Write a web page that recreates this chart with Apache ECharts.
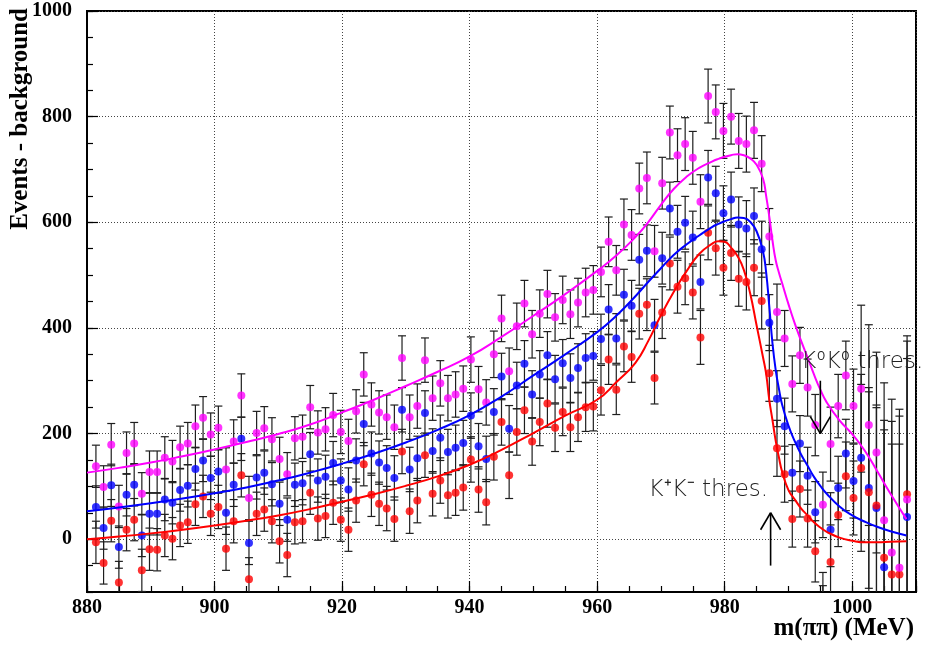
<!DOCTYPE html>
<html><head><meta charset="utf-8">
<script src="https://cdn.jsdelivr.net/npm/echarts@6/dist/echarts.min.js"></script>
<style>html,body{margin:0;padding:0;background:#fff}#c{width:925px;height:650px}</style>
</head><body><div id="c"></div>
<script>
// ---------------- data ----------------
const mass = [881.4,882.6,883.8,885.0,886.2,887.4,888.6,889.8,891.0,892.2,893.4,894.6,895.8,897.0,898.2,899.4,900.6,901.8,903.0,904.2,905.4,906.6,907.8,909.0,910.2,911.4,912.6,913.8,915.0,916.2,917.4,918.6,919.8,921.0,922.2,923.4,924.6,925.8,927.0,928.2,929.4,930.6,931.8,933.0,934.2,935.4,936.6,937.8,939.0,940.2,941.4,942.6,943.8,945.0,946.2,947.4,948.6,949.8,951.0,952.2,953.4,954.6,955.8,957.0,958.2,959.4,960.6,961.8,963.0,964.2,965.4,966.6,967.8,969.0,970.2,971.4,972.6,973.8,975.0,976.2,977.4,978.6,979.8,981.0,982.2,983.4,984.6,985.8,987.0,988.2,989.4,990.6,991.8,993.0,994.2,995.4,996.6,997.8,999.0,1000.2,1001.4,1002.6,1003.8,1005.0,1006.2,1007.4,1008.6];

const magenta = [138,99,179,62,163,181,86,127,127,154, 147,174,181,214,230,198,211,132,185,272, 78,201,210,189,152,123,191,194,250,202, 208,235,203,186,242,312,255,240,231,212, 343,231,252,339,267,295,267,274,285,340, 284,259,350,418,318,403,446,388,427,464, 420,453,426,448,467,472,506,563,509,596, 576,664,684,545,674,770,727,748,722,639, 839,809,773,800,754,748,774,711,573,430, 380,294,348,287,216,65,180,252,310,252, 285,216,164,36,-25,-54,75];

const blue = [61,21,102,-15,84,103,7,48,48,75, 69,93,101,133,149,116,128,50,103,190, -7,117,126,104,67,37,103,106,161,111, 118,144,111,94,149,218,162,145,135,116, 245,132,153,239,167,192,165,173,182,234, 176,152,241,308,209,291,332,274,312,348, 303,333,305,324,343,347,379,435,380,463, 442,529,546,405,532,626,582,599,571,487, 685,655,617,643,596,588,612,549,410,266, 214,126,181,120,51,-125,18,97,162,110, 154,97,59,-53,-110,-120,42];

const red = [-6,-45,35,-82,18,37,-59,-19,-20,7, 1,26,32,66,81,48,61,-18,34,121, -76,48,56,34,-4,-30,32,34,88,39, 44,69,37,18,73,142,84,67,58,38, 166,53,73,159,86,111,83,88,98,151, 94,70,156,222,121,203,244,185,222,257, 211,241,212,231,250,251,282,340,283,365, 345,427,444,305,429,522,478,494,467,382, 580,551,514,542,493,487,514,451,314,172, 123,38,95,39,-23,-150,-43,46,119,78, 135,89,64,-35,-67,-67,85];

const errors = [40,40,40,40,40,40,40,40,40,40, 40,40,40,40,40,41,41,41,41,41, 41,41,41,41,41,41,41,41,41,41, 41,41,41,41,41,41,41,41,42,42, 42,42,42,42,42,43,43,43,43,43, 43,43,44,44,44,44,44,45,45,45, 45,45,46,46,46,46,47,47,47,48, 48,48,49,49,49,50,50,50,50,51, 51,51,52,52,52,53,53,53,53,53, 53,53,53,54,58,62,70,60,65,70, 158,190,190,260,290,300,300];

const fitMass = [880,885,890,895,900,905,910,915,920,925,930,935,940,945,950,955,960,963,966,968,970,972,974,976,978,979,980,981,982,983,984,985,986,986.5,987,987.5,988,988.5,989,990,991,992,993,994,995,996,998,1000,1002,1004,1006,1008.5];
const fitMagenta = [126,135,145,157,170,184,199,217,240,264,290,317,346,383,423,464,508,537,572,600,633,663,686,703,715,720,724,727,729,727,721,709,683,650,610,565,528,505,485,445,408,375,344,312,283,259,225,199,167,127,86,38];
const fitBlue = [53,60,68,77,87,98,111,126,143,162,183,207,235,270,310,350,392,423,460,487,513,538,558,575,591,597,602,606,609,608,601,583,545,505,440,370,320,285,255,215,185,160,139,118,101,86,62,45,33,23,15,7];
const fitRed = [0,5,11,18,26,35,45,57,71,85,101,119,141,169,201,234,264,297,334,375,424,468,507,540,559,564,563,552,536,510,465,405,345,313,263,225,186,155,128,93,75,58,45,32,22,14,3,-3,-6,-6,-5,-4];

const xTickLabels = [880,900,920,940,960,980,1000];
const yTickLabels = [0,200,400,600,800,1000];

const thresholds = [
  {label:'K\u207AK\u207B thres.', mass:987.2, from:-50, to:50},
  {label:'K\u2070K\u2070 thres.', mass:995.0, from:300, to:200}
];

// ---------------- chart ----------------
const X_MIN=880, X_MAX=1010, Y_MIN=-100, Y_MAX=1000;
const SERIF='"Liberation Serif","Times New Roman",serif';
const chart = echarts.init(document.getElementById('c'), null, {renderer:'canvas'});

function pts(vals){ return mass.map((m,i)=>[m, vals[i]]); }
function errData(vals){ return mass.map((m,i)=>[m, vals[i], errors[i]]); }
function fitData(vals){ return fitMass.map((m,i)=>[m, vals[i]]); }

const BAR_COLOR = '#1e1e1e';
function errorBar(params, api){
  const x=api.value(0), v=api.value(1), e=api.value(2);
  const hi=Math.min(v+e, Y_MAX), lo=Math.max(v-e, Y_MIN);
  if (hi<=lo) return null;
  const a=api.coord([x,hi]), b=api.coord([x,lo]);
  const st={stroke:BAR_COLOR, lineWidth:1.2};
  const hw=4;
  const ch=[{type:'line', shape:{x1:a[0],y1:a[1],x2:b[0],y2:b[1]}, style:st}];
  if (v+e<=Y_MAX) ch.push({type:'line', shape:{x1:a[0]-hw,y1:a[1],x2:a[0]+hw,y2:a[1]}, style:st});
  if (v-e>=Y_MIN) ch.push({type:'line', shape:{x1:b[0]-hw,y1:b[1],x2:b[0]+hw,y2:b[1]}, style:st});
  return {type:'group', children:ch};
}

// label placement (pixels relative to arrow tail)
const labelStyle = [
  {dx:-122, dy:-76},
  {dx:-19, dy:-19}
];
function thresholdItem(params, api){
  const i = params.dataIndex;
  const t = thresholds[i];
  const tail = api.coord([t.mass, t.from]);
  const tip = api.coord([t.mass, t.to]);
  const dir = tip[1] < tail[1] ? 1 : -1;
  const st = {stroke:'#000', lineWidth:1.6};
  const ls = labelStyle[i];
  return {type:'group', children:[
    {type:'line', shape:{x1:tail[0],y1:tail[1],x2:tip[0],y2:tip[1]}, style:st},
    {type:'line', shape:{x1:tip[0]-10,y1:tip[1]+dir*17,x2:tip[0],y2:tip[1]}, style:st},
    {type:'line', shape:{x1:tip[0]+10,y1:tip[1]+dir*17,x2:tip[0],y2:tip[1]}, style:st},
    {type:'text', x: tail[0]+ls.dx, y: tail[1]+ls.dy,
      style:{text:t.label, fill:'#222', fontSize:23, fontFamily:'"DejaVu Sans"', fontWeight:200, align:'left', verticalAlign:'middle'}}
  ]};
}

const defs = [
  {color:'#0000ff', vals:blue, fit:fitBlue},
  {color:'#ff0000', vals:red, fit:fitRed},
  {color:'#ff00ff', vals:magenta, fit:fitMagenta}
];
const series = [];
defs.forEach(d=>{
  series.push({type:'custom', renderItem:errorBar, data:errData(d.vals), xAxisIndex:0, yAxisIndex:0, silent:true});
  series.push({type:'scatter', data:pts(d.vals), symbol:'circle', symbolSize:8, itemStyle:{color:d.color}, clip:true, xAxisIndex:0, yAxisIndex:0});
});
defs.forEach(d=>{
  series.push({type:'line', data:fitData(d.fit), showSymbol:false, smooth:0.5, lineStyle:{color:d.color, width:2}, clip:true, xAxisIndex:0, yAxisIndex:0});
});
series.push({type:'custom', renderItem:thresholdItem, data:thresholds.map(t=>[t.mass,t.from,t.to]), xAxisIndex:0, yAxisIndex:0, silent:true, z:10});

const gridLine = {show:true, lineStyle:{color:'#444', width:1, type:[1,2]}};
chart.setOption({
  animation:false,
  backgroundColor:'#fff',
  grid:{left:87, right:9, top:11, bottom:58, show:true, borderColor:'#000', borderWidth:2, backgroundColor:'transparent'},
  xAxis:[
    {type:'value', min:X_MIN, max:X_MAX, interval:20, position:'bottom',
     axisLine:{show:true, onZero:false, lineStyle:{color:'#000', width:2}},
     axisTick:{show:true, inside:true, length:11, lineStyle:{color:'#000', width:1.2}},
     axisLabel:{show:true, margin:6, color:'#000', fontFamily:SERIF, fontWeight:'bold', fontSize:20,
       formatter:v=>xTickLabels.includes(v)?String(v):''},
     splitLine:gridLine},
    {type:'value', min:X_MIN, max:X_MAX, interval:5, position:'bottom', offset:0,
     axisLine:{show:false, onZero:false}, axisTick:{show:true, inside:true, length:6, lineStyle:{color:'#000', width:1.2}},
     axisLabel:{show:false}, splitLine:{show:false}}
  ],
  yAxis:[
    {type:'value', min:Y_MIN, max:Y_MAX, splitNumber:5, position:'left',
     axisLine:{show:true, onZero:false, lineStyle:{color:'#000', width:2}},
     axisTick:{show:true, inside:true, length:11, lineStyle:{color:'#000', width:1.2}},
     axisLabel:{show:true, margin:15, color:'#000', fontFamily:SERIF, fontWeight:'bold', fontSize:20, showMinLabel:false,
       formatter:v=>yTickLabels.includes(v)?String(v):''},
     splitLine:gridLine},
    {type:'value', min:Y_MIN, max:Y_MAX, interval:50, position:'left', offset:0,
     axisLine:{show:false, onZero:false}, axisTick:{show:true, inside:true, length:6, lineStyle:{color:'#000', width:1.2}},
     axisLabel:{show:false}, splitLine:{show:false}}
  ],
  graphic:[
    {type:'text', x:21, y:8, rotation:Math.PI/2,
     style:{text:'Events - background', fill:'#000', fontFamily:SERIF, fontWeight:'bold', fontSize:25, align:'right', verticalAlign:'middle'}},
    {type:'text', x:914, y:629,
     style:{text:'m(\u03C0\u03C0) (MeV)', fill:'#000', fontFamily:SERIF, fontWeight:'bold', fontSize:25, align:'right', verticalAlign:'middle'}}
  ],
  series:series
});
</script>
</body></html>
